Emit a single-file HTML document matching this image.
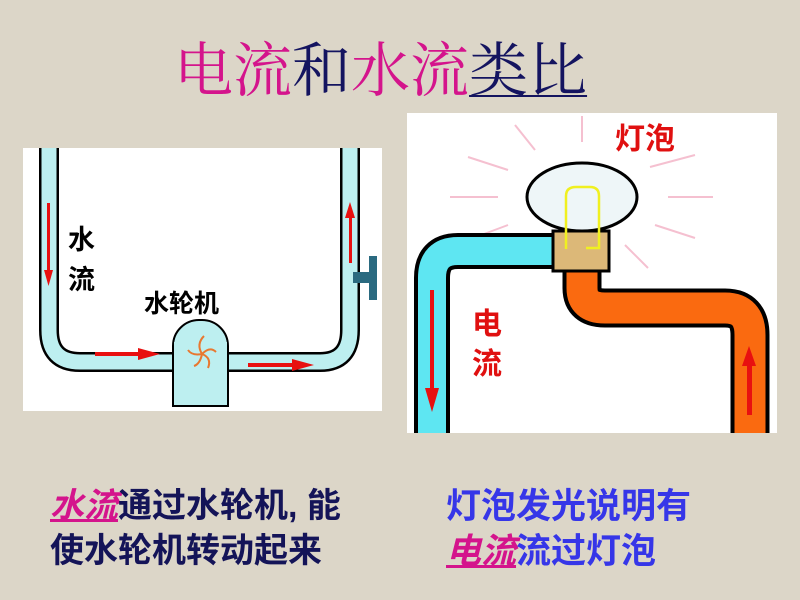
<!DOCTYPE html>
<html><head><meta charset="utf-8"><style>
html,body{margin:0;padding:0;}
body{width:800px;height:600px;background:#dcd6c8;overflow:hidden;position:relative;font-family:"Liberation Sans","Noto Sans CJK SC",sans-serif;}
.t{position:absolute;white-space:nowrap;}
</style></head><body>
<div class="t" style="left:174px;top:36px;font-family:'Liberation Serif','Noto Serif CJK SC',serif;font-size:59px;line-height:70px;">
<span style="color:#d4148c">电流</span><span style="color:#141460">和</span><span style="color:#d4148c">水流</span><span style="color:#141460;text-decoration:underline;text-decoration-thickness:2px;text-underline-offset:4px">类比</span></div>

<svg width="800" height="600" style="position:absolute;left:0;top:0">
<rect x="23" y="148" width="359" height="263" fill="#fff"/>
<path d="M49 148 V330 Q49 362 80 362 H190 M214 362 H320 Q350 362 350 330 V148" fill="none" stroke="#000" stroke-width="20"/>
<path d="M49 148 V330 Q49 362 80 362 H190 M214 362 H320 Q350 362 350 330 V148" fill="none" stroke="#bdeff0" stroke-width="15"/>
<path d="M202 320 a26 26 0 0 1 26 26 V406 H173 V346 a26 26 0 0 1 26 -26 z" fill="#bdeff0" stroke="#000" stroke-width="2"/>
<rect x="174" y="342" width="53" height="20" fill="#bdeff0"/>
<g stroke="#e87830" stroke-width="2" fill="none">
<path d="M202 354 q-6 -10 2 -18"/><path d="M202 354 q8 -8 14 -2"/><path d="M202 354 q10 4 6 14"/><path d="M202 354 q-2 10 -8 12"/><path d="M202 354 q-10 2 -14 -4"/>
</g>
<rect x="353" y="272" width="20" height="11" fill="#2a6a80"/>
<rect x="369" y="256" width="8" height="44" fill="#2a6a80"/>
<g fill="#e81010">
<rect x="47" y="203" width="3" height="70"/><polygon points="44,270 53,270 48.5,286"/>
<rect x="95" y="352" width="46" height="4"/><polygon points="138,348 160,354 138,360"/>
<rect x="248" y="363" width="46" height="4"/><polygon points="292,359 314,365 292,371"/>
<rect x="349" y="215" width="3" height="48"/><polygon points="345,218 355,218 350,202"/>
</g>
<rect x="407" y="113" width="370" height="320" fill="#fff"/>
<g stroke="#f5c0d0" stroke-width="2">
<line x1="582" y1="116" x2="582" y2="142"/><line x1="515" y1="125" x2="535" y2="150"/><line x1="468" y1="157" x2="508" y2="170"/>
<line x1="450" y1="197" x2="498" y2="197"/><line x1="468" y1="240" x2="508" y2="225"/><line x1="650" y1="167" x2="695" y2="155"/>
<line x1="668" y1="197" x2="713" y2="197"/><line x1="655" y1="225" x2="695" y2="238"/><line x1="625" y1="245" x2="648" y2="268"/>
</g>
<path d="M432 433 V278 Q432 251 458 251 H555" fill="none" stroke="#000" stroke-width="36"/>
<path d="M432 433 V278 Q432 251 458 251 H555" fill="none" stroke="#5ee6f2" stroke-width="28"/>
<path d="M582 270 V288 Q582 308 605 308 H725 Q750 308 750 335 V433" fill="none" stroke="#000" stroke-width="39"/>
<path d="M582 270 V288 Q582 308 605 308 H725 Q750 308 750 335 V433" fill="none" stroke="#fa6a10" stroke-width="31"/>
<ellipse cx="582" cy="197" rx="55" ry="34" fill="#eef6f8" stroke="#000" stroke-width="3"/>
<rect x="553" y="231" width="56" height="40" fill="#dcb878" stroke="#000" stroke-width="3"/>
<path d="M566 249 V196 Q566 187 576 187 H590 Q599 187 599 196 V248 H586" fill="none" stroke="#f0f020" stroke-width="2.5"/>
<g fill="#e81010">
<rect x="430" y="290" width="4" height="100"/><polygon points="425,388 439,388 432,412"/>
<rect x="747" y="362" width="5" height="53"/><polygon points="742,366 756,366 749,346"/>
</g>
</svg>

<div class="t" style="left:68px;top:220px;font-size:27px;font-weight:bold;line-height:40px;color:#000">水<br>流</div>
<div class="t" style="left:144px;top:284px;font-size:25px;font-weight:bold;color:#000">水轮机</div>
<div class="t" style="left:615px;top:114px;font-size:30px;font-weight:bold;color:#e01010">灯泡</div>
<div class="t" style="left:472px;top:305px;font-size:30px;font-weight:bold;line-height:40px;color:#e01010">电<br>流</div>

<div class="t" style="left:50px;top:484px;font-size:34px;font-weight:bold;line-height:45px;color:#141458">
<span style="color:#d4148c;font-style:italic;text-decoration:underline">水流</span>通过水轮机, 能<br>使水轮机转动起来</div>
<div class="t" style="left:446px;top:484px;font-size:35px;font-weight:bold;line-height:45px;color:#3636e8">
灯泡发光说明有<br><span style="color:#d4148c;font-style:italic;text-decoration:underline">电流</span>流过灯泡</div>
</body></html>
